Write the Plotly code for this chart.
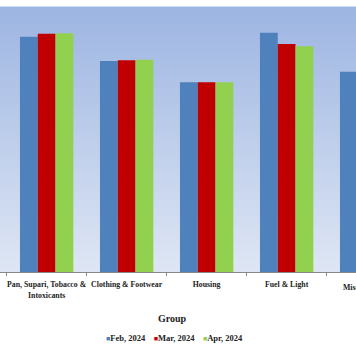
import plotly.graph_objects as go

categories = ["Pan, Supari, Tobacco &<br>Intoxicants", "Clothing & Footwear", "Housing", "Fuel & Light", "Miscellaneous"]
series_names = ["Feb, 2024", "Mar, 2024", "Apr, 2024"]
feb_values = [177.6, 159.2, 143.2, 180.6, 151.2]
mar_values = [179.8, 159.8, 143.2, 172.1, 151.6]
apr_values = [180.2, 160.2, 143.2, 170.3, 152.0]
colors = ["#4f81bd", "#c00000", "#92d050"]

x_range = [-0.583, 3.867]
y_range = [0, 200]

fig = go.Figure()
for name, vals, col in zip(series_names, [feb_values, mar_values, apr_values], colors):
    fig.add_trace(go.Bar(x=categories, y=vals, name=name, marker_color=col,
                         marker_line_width=0, showlegend=False))

# gradient background in bands
top = (157, 181, 226)
bot = (222, 230, 244)
n = 80
shapes = []
for i in range(n):
    t = i / (n - 1)
    c = tuple(round(top[k] + (bot[k] - top[k]) * t) for k in range(3))
    shapes.append(dict(type="rect", xref="paper", yref="paper", x0=0, x1=1,
                       y0=1 - (i + 1) / n, y1=1 - i / n + 0.002,
                       fillcolor="rgb(%d,%d,%d)" % c, line_width=0, layer="below"))

font_family = "Liberation Serif"
tick_size = 7.8
annotations = []
# label of partially visible last category
last_idx = len(categories) - 1
annotations.append(dict(xref="paper", yref="paper",
                        x=(last_idx - x_range[0]) / (x_range[1] - x_range[0]), y=-0.034,
                        xanchor="center", yanchor="top", showarrow=False,
                        text=categories[last_idx],
                        font=dict(family=font_family, size=tick_size, color="#222", weight="bold")))
# axis title
annotations.append(dict(xref="paper", yref="paper", x=172 / 356, y=-0.177,
                        xanchor="center", yanchor="middle", showarrow=False, text="Group",
                        font=dict(family=font_family, size=10, color="#222", weight="bold")))
# legend
leg_text = "&nbsp;&nbsp;&nbsp;&nbsp;".join(
    "<span style='color:%s;font-size:7px'>■</span>%s" % (c, n_) for c, n_ in zip(colors, series_names))
annotations.append(dict(xref="paper", yref="paper", x=174 / 356, y=-0.25,
                        xanchor="center", yanchor="middle", showarrow=False, text=leg_text,
                        font=dict(family=font_family, size=8.5, color="#222", weight="bold")))

fig.update_layout(
    width=356, height=364,
    margin=dict(l=0, r=0, t=7, b=92, autoexpand=False),
    paper_bgcolor="white", plot_bgcolor="rgb(190,206,235)",
    bargap=0.333, bargroupgap=0, barmode="group",
    shapes=shapes, annotations=annotations,
    xaxis=dict(range=x_range, tickson="boundaries", ticks="outside", ticklen=3,
               tickcolor="#888", showline=True, linecolor="#888", linewidth=1,
               showgrid=False, tickangle=0, automargin=False, ticklabelstandoff=5,
               tickfont=dict(family=font_family, size=tick_size, color="#222", weight="bold")),
    yaxis=dict(range=y_range, visible=False, showgrid=False, automargin=False),
)

fig.write_html("out.html", config={"displayModeBar": False},
               post_script="document.body.style.margin='0';")
